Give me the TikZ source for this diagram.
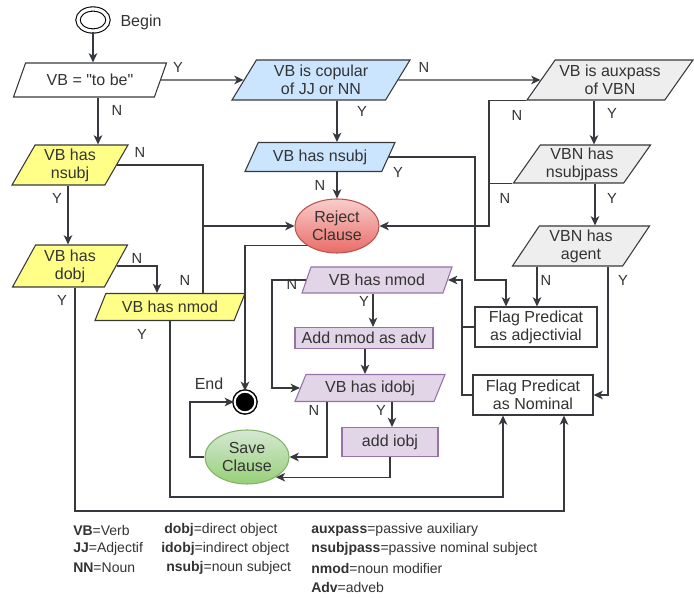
\documentclass[tikz,border=0pt]{standalone}
\usepackage{fontspec}
\setmainfont{Liberation Sans}[Ligatures=TeXOff]
\usetikzlibrary{shapes.geometric,arrows.meta,calc}

\definecolor{txt}{HTML}{333333}
\definecolor{edge}{HTML}{36393D}
\definecolor{yel}{HTML}{FFFF88}
\definecolor{blu}{HTML}{CCE5FF}
\definecolor{gry}{HTML}{EEEEEE}
\definecolor{pur}{HTML}{E1D5E7}
\definecolor{purline}{HTML}{9673A6}
\definecolor{redtop}{HTML}{F8CECC}
\definecolor{redbot}{HTML}{EA6B66}
\definecolor{redline}{HTML}{B85450}
\definecolor{grntop}{HTML}{D5E8D4}
\definecolor{grnbot}{HTML}{97D077}
\definecolor{grnline}{HTML}{82B366}

\tikzset{
  base/.style={font=\fontsize{12}{13.5}\selectfont, text=txt, align=center, inner sep=1pt, line width=0.8pt},
  para/.style={base, trapezium, trapezium left angle=53, trapezium right angle=127,
    trapezium stretches body=true, draw=edge},
  box/.style={base, rectangle, draw=edge},
  oval/.style={base, ellipse, minimum width=63pt, minimum height=40.5pt},
  lbl/.style={font=\fontsize{11}{12}\selectfont, text=txt, inner sep=0pt},
  leg/.style={font=\fontsize{10.5}{12}\selectfont, text=txt, anchor=west, inner sep=0pt},
  arr/.style={draw=edge, line width=0.9pt, -{Stealth[length=7pt,width=6.5pt,inset=2pt]}},
  ln/.style={draw=edge, line width=0.9pt}
}

\begin{document}
\begin{tikzpicture}[x=0.75pt,y=-0.75pt]
\useasboundingbox (0,0) rectangle (694,598);

% start and end markers
\node[ellipse, draw=black, line width=0.8pt, double=white, double distance=2.4pt,
      minimum width=22.5pt, minimum height=16.5pt, inner sep=0pt] (begin) at (93,20) {};
\node[lbl, font=\fontsize{12}{13}\selectfont] (beginlbl) at (141,22) {Begin};
\node[circle, draw=black, fill=black, line width=1.1pt, double=white, double distance=1.5pt,
      minimum size=15.5pt, inner sep=0pt] (end) at (245,402) {};
\node[lbl, font=\fontsize{12}{13}\selectfont] (endlbl) at (209,384) {End};

% decisions and steps
\node[para, fill=white, minimum width=114.75pt, minimum height=25.5pt,
      trapezium left angle=50, trapezium right angle=130] (vbtobe) at (90,80) {VB = "to be"};
\node[para, fill=blu, minimum width=133.5pt, minimum height=30pt] (copular) at (321,80) {VB is copular\\of JJ or NN};
\node[para, fill=gry, minimum width=124.5pt, minimum height=30pt,
      trapezium left angle=49, trapezium right angle=131] (auxpass) at (610,80) {VB is auxpass\\of VBN};
\node[para, fill=yel, minimum width=87pt, minimum height=30pt,
      trapezium left angle=57, trapezium right angle=123] (ynsubj) at (70,165) {VB has\\nsubj};
\node[para, fill=blu, minimum width=112.5pt, minimum height=21.75pt] (bnsubj) at (320,157) {VB has nsubj};
\node[para, fill=gry, minimum width=102.75pt, minimum height=28.5pt] (nsubjpass) at (582,164) {VBN has\\nsubjpass};
\node[oval, draw=redline, top color=redtop, bottom color=redbot] (reject) at (337,226) {Reject\\Clause};
\node[para, fill=yel, minimum width=86.25pt, minimum height=31.5pt,
      trapezium left angle=57, trapezium right angle=123] (ydobj) at (70,266) {VB has\\dobj};
\node[para, fill=yel, minimum width=112.5pt, minimum height=20.25pt] (ynmod) at (170,307) {VB has nmod};
\node[para, fill=gry, minimum width=102.75pt, minimum height=30pt] (agent) at (581,246) {VBN has\\agent};
\node[para, fill=pur, draw=purline, minimum width=112.5pt, minimum height=19.5pt,
      trapezium left angle=58, trapezium right angle=122] (pnmod) at (377,280) {VB has nmod};
\node[box, fill=pur, draw=purline, minimum width=103.5pt, minimum height=15.75pt] (addnmod) at (364,338) {Add nmod as adv};
\node[box, fill=white, minimum width=91.5pt, minimum height=30pt] (flagadj) at (536,327) {Flag Predicat\\as adjectivial};
\node[para, fill=pur, draw=purline, minimum width=112.5pt, minimum height=20.25pt,
      trapezium left angle=58, trapezium right angle=122] (pidobj) at (370,388) {VB has idobj};
\node[box, fill=white, minimum width=90pt, minimum height=30pt] (flagnom) at (533,395) {Flag Predicat\\as Nominal};
\node[oval, draw=grnline, top color=grntop, bottom color=grnbot] (save) at (247,457) {Save\\Clause};
\node[box, fill=pur, draw=purline, minimum width=72pt, minimum height=21.75pt] (addiobj) at (390,442) {add iobj};

% connectors
\draw[arr] (begin.south) -- (begin.south |- vbtobe.north);
\draw[arr] (vbtobe.east) -- (copular.west);
\draw[arr] (copular.east) -- (auxpass.west);
\draw[arr] (vbtobe.south -| 98,0) -- (ynsubj.north -| 98,0);
\draw[arr] (copular.south -| 337,0) -- (bnsubj.north -| 337,0);
\draw[arr] (bnsubj.south -| 337,0) -- (reject.north);
\draw[arr] (bnsubj.east) -| (475,280) -| (flagadj.north -| 506,0);
\draw[arr] (auxpass.south -| 594,0) -- (nsubjpass.north -| 594,0);
\draw[arr] (auxpass.bottom left corner) -| (reject.east -| 489,0) -- (reject.east);
\draw[ln] (nsubjpass.bottom left corner) -- (nsubjpass.bottom left corner -| 489,0);
\draw[arr] (nsubjpass.south -| 595,0) -- (agent.north -| 595,0);
\draw[arr] (agent.south -| 537,0) -- (flagadj.north -| 537,0);
\draw[arr] (agent.south -| 608,0) |- (flagnom.east);
\draw[arr] (ynsubj.east) -| (reject.west -| 203,0) -- (reject.west);
\draw[ln] (ynmod.north -| 203,0) -- (reject.west -| 203,0);
\draw[arr] (ynsubj.south -| 68,0) -- (ydobj.north -| 68,0);
\draw[arr] (ydobj.east) -| (ynmod.north -| 157,0);
\draw[arr] (ydobj.south -| 75,0) |- (564,511) -- (flagnom.south -| 564,0);
\draw[arr] (ynmod.south) |- (503,497) -- (flagnom.south -| 503,0);
\draw[arr] (reject.south west) -| (end.north);
\draw[arr] (save.west) -| (end.west -| 190,0) -- (end.west);
\draw[arr] (pnmod.west) -| (pidobj.west -| 272,0) -- (pidobj.west);
\draw[arr] (pnmod.south -| 373,0) -- (addnmod.north -| 373,0);
\draw[arr] (addnmod.south -| 365,0) -- (pidobj.north -| 365,0);
\draw[arr] (pidobj.south -| 327,0) |- (save.east);
\draw[arr] (pidobj.south -| 392,0) -- (addiobj.north -| 392,0);
\draw[arr] (addiobj.south) |- (save.-35);
\draw[arr] (flagadj.west) -| (pnmod.east -| 462,0) -- (pnmod.east);
\draw[ln] (flagnom.west) -- (flagnom.west -| 462,0) -- (flagadj.west -| 462,0);

% branch labels
\node[lbl] (y1) at (178,67) {Y};
\node[lbl] (n1) at (424,67) {N};
\node[lbl] (n2) at (117,110) {N};
\node[lbl] (y2) at (362,111) {Y};
\node[lbl] (n3) at (140,152) {N};
\node[lbl] (y3) at (398,172) {Y};
\node[lbl] (n4) at (320,185) {N};
\node[lbl] (y4) at (612,113) {Y};
\node[lbl] (n5) at (517,115) {N};
\node[lbl] (n6) at (505,198) {N};
\node[lbl] (y5) at (612,198) {Y};
\node[lbl] (n7) at (546,280) {N};
\node[lbl] (y6) at (623,280) {Y};
\node[lbl] (y7) at (57,198) {Y};
\node[lbl] (n8) at (137,258) {N};
\node[lbl] (n9) at (185,280) {N};
\node[lbl] (y8) at (62,300) {Y};
\node[lbl] (y9) at (142,334) {Y};
\node[lbl] (n10) at (292,284) {N};
\node[lbl] (y10) at (364,301) {Y};
\node[lbl] (n11) at (314,410) {N};
\node[lbl] (y11) at (381,410) {Y};

% abbreviations
\node[leg] (l1) at (73,530) {\textbf{VB}=Verb};
\node[leg] (l2) at (73,549) {\textbf{JJ}=Adjectif};
\node[leg] (l3) at (73,568) {\textbf{NN}=Noun};
\node[leg] (l4) at (164,530) {\textbf{dobj}=direct object};
\node[leg] (l5) at (161,549) {\textbf{idobj}=indirect object};
\node[leg] (l6) at (166,568) {\textbf{nsubj}=noun subject};
\node[leg] (l7) at (311,530) {\textbf{auxpass}=passive auxiliary};
\node[leg] (l8) at (311,549) {\textbf{nsubjpass}=passive nominal subject};
\node[leg] (l9) at (311,568) {\textbf{nmod}=noun modifier};
\node[leg] (l10) at (311,587) {\textbf{Adv}=adveb};
\end{tikzpicture}
\end{document}
